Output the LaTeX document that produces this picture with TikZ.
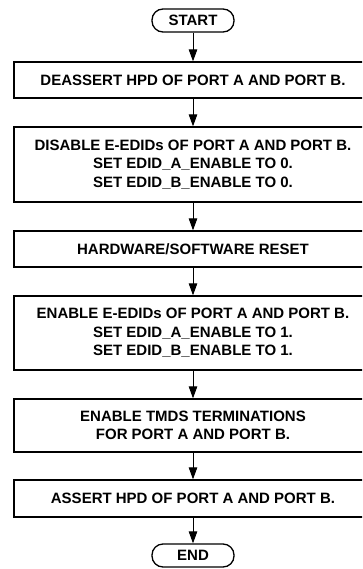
\documentclass[tikz,border=0pt]{standalone}
\usepackage{fontspec}
\setmainfont{Liberation Sans}
\usetikzlibrary{arrows.meta}

\tikzset{
  stepbox/.style={draw, line width=1.3pt, minimum width=358pt, inner sep=0pt,
    align=center, font=\bfseries\fontsize{15}{18.5}\selectfont},
  termbox/.style={draw, line width=1.3pt, rounded corners=11pt, minimum width=82pt,
    minimum height=23pt, inner sep=0pt, font=\bfseries\fontsize{15}{18}\selectfont},
  flow/.style={line width=1pt, -{Triangle[length=12pt,width=8.5pt]}},
}

\begin{document}
\begin{tikzpicture}[x=1pt, y=-1pt]
  \clip (0,0) rectangle (362,569);

  \node[termbox] (start) at (193,20.5) {START};

  \node[stepbox, minimum height=36pt] (deassert) at (193,80)
    {DEASSERT HPD OF PORT A AND PORT B.};

  \node[stepbox, minimum height=75pt] (disable) at (193,164.5)
    {DISABLE E-EDIDs OF PORT A AND PORT B.\\
     SET EDID\_A\_ENABLE TO 0.\\
     SET EDID\_B\_ENABLE TO 0.};

  \node[stepbox, minimum height=36pt] (reset) at (193,249)
    {HARDWARE/SOFTWARE RESET};

  \node[stepbox, minimum height=74pt] (enable) at (193,333)
    {ENABLE E-EDIDs OF PORT A AND PORT B.\\
     SET EDID\_A\_ENABLE TO 1.\\
     SET EDID\_B\_ENABLE TO 1.};

  \node[stepbox, minimum height=53pt] (tmds) at (193,425.5)
    {ENABLE TMDS TERMINATIONS\\
     FOR PORT A AND PORT B.};

  \node[stepbox, minimum height=37pt] (assert) at (193,498.5)
    {ASSERT HPD OF PORT A AND PORT B.};

  \node[termbox] (end) at (193,555.5) {END};

  \draw[flow] (start) -- (deassert);
  \draw[flow] (deassert) -- (disable);
  \draw[flow] (disable) -- (reset);
  \draw[flow] (reset) -- (enable);
  \draw[flow] (enable) -- (tmds);
  \draw[flow] (tmds) -- (assert);
  \draw[flow] (assert) -- (end);
\end{tikzpicture}
\end{document}
